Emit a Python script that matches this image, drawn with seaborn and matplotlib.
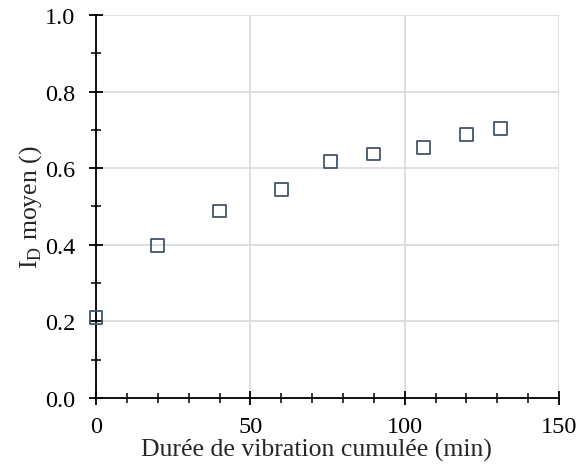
import matplotlib
matplotlib.use('Agg')
import matplotlib.pyplot as plt
import seaborn as sns
import pandas as pd
from matplotlib.ticker import MultipleLocator

duree = [0, 20, 40, 60, 76, 90, 106, 120, 131]
id_moyen = [0.211, 0.398, 0.488, 0.545, 0.618, 0.637, 0.655, 0.688, 0.704]


def main():
  sns.set_style('white')
  plt.rcParams['font.family'] = ['Liberation Serif', 'DejaVu Serif']
  plt.rcParams['mathtext.fontset'] = 'custom'
  plt.rcParams['mathtext.rm'] = 'Liberation Serif'

  df = pd.DataFrame({'duree': duree, 'id': id_moyen})

  fig = plt.figure(figsize=(5.77, 4.77), dpi=100)
  ax = fig.add_axes([0.1664, 0.1635, 0.8026, 0.8030])
  sns.scatterplot(data=df, x='duree', y='id', ax=ax, marker='s', s=85,
                  facecolor='none', edgecolor='#44546A', linewidth=1.3,
                  zorder=3, clip_on=False)

  ax.set_xlim(0, 150)
  ax.set_ylim(0, 1.0)
  ax.xaxis.set_major_locator(MultipleLocator(50))
  ax.xaxis.set_minor_locator(MultipleLocator(10))
  ax.yaxis.set_major_locator(MultipleLocator(0.2))
  ax.yaxis.set_minor_locator(MultipleLocator(0.1))
  ax.yaxis.set_major_formatter(plt.FormatStrFormatter('%.1f'))

  ax.grid(True, which='major', color='#d9d9d9', linewidth=1.2, zorder=0)
  ax.set_axisbelow(True)
  for s in ['top', 'right']:
    ax.spines[s].set_visible(False)
  for s in ['left', 'bottom']:
    ax.spines[s].set_color('black')
    ax.spines[s].set_linewidth(1.3)

  ax.tick_params(which='major', direction='inout', length=10, width=1.3,
                 labelsize=17.5, colors='black')
  ax.tick_params(axis='y', which='major', pad=10)
  ax.tick_params(axis='x', which='major', pad=8)
  ax.tick_params(which='minor', direction='inout', length=7, width=1.1,
                 colors='black')
  ax.tick_params(axis='both', which='both', bottom=True, left=True)

  ax.set_xlabel('Durée de vibration cumulée (min)', fontsize=18.5)
  ax.set_ylabel(r'I$_\mathregular{D}$ moyen ()', fontsize=18.5)
  ax.xaxis.set_label_coords(0.476, -0.105)
  ax.yaxis.set_label_coords(-0.112, 0.5)

  fig.savefig('out.png', dpi=100)


if __name__ == '__main__':
  main()
